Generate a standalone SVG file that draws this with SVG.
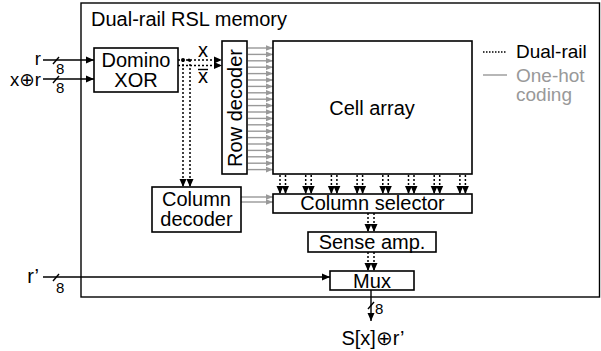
<svg xmlns="http://www.w3.org/2000/svg" width="601" height="351" viewBox="0 0 601 351">
<style>
text{font-family:"Liberation Sans",Arial,"DejaVu Sans",sans-serif;font-size:20px;fill:#000}
.sm{font-size:15px}
.lg{font-size:19px}
.in{font-size:18.5px}
.box{fill:#fff;stroke:#000;stroke-width:1.6}
.sol{stroke:#000;stroke-width:1.4;fill:none}
.dot{stroke:#000;stroke-width:1.5;stroke-dasharray:2 2;fill:none}
.gry{stroke:#999;stroke-width:1.4;fill:none}
.c{text-anchor:middle}
</style>
<defs>
<marker id="ab" markerUnits="userSpaceOnUse" markerWidth="9" markerHeight="9" refX="8" refY="4.5" orient="auto"><path d="M0,1L8,4.5L0,8z" fill="#000"/></marker>
<marker id="ag" markerUnits="userSpaceOnUse" markerWidth="8" markerHeight="8" refX="7" refY="4" orient="auto"><path d="M0,1.2L7,4L0,6.8z" fill="#999"/></marker>
</defs>
<g id="outer">
<rect x="81" y="3" width="518.5" height="294" fill="#fff" stroke="#000" stroke-width="1.4"/>
<text x="91" y="26">Dual-rail RSL memory</text>
</g>
<g id="connectors">
<line class="sol" x1="43" y1="60" x2="94" y2="60" marker-end="url(#ab)"/>
<line class="sol" x1="43" y1="79" x2="94" y2="79" marker-end="url(#ab)"/>
<line class="sol" x1="53" y1="64" x2="59" y2="57"/>
<line class="sol" x1="53" y1="83" x2="59" y2="76"/>
<line class="sol" x1="43" y1="277" x2="330" y2="277" marker-end="url(#ab)"/>
<line class="sol" x1="53" y1="281" x2="59" y2="274"/>
<line class="sol" x1="371" y1="290" x2="371" y2="321" marker-end="url(#ab)"/>
<line class="sol" x1="368" y1="309" x2="374" y2="302"/>
<line class="dot" x1="178" y1="60" x2="222" y2="60" marker-end="url(#ab)"/>
<line class="dot" x1="178" y1="65.5" x2="222" y2="65.5" marker-end="url(#ab)"/>
<circle cx="183" cy="60" r="2" fill="#000"/>
<circle cx="189" cy="60" r="1.6" fill="#000"/>
<line class="dot" x1="183" y1="60" x2="183" y2="187" marker-end="url(#ab)"/>
<line class="dot" x1="190" y1="60" x2="190" y2="187" marker-end="url(#ab)"/>
<g id="rowlines">
<line class="gry" x1="248" y1="48" x2="273" y2="48" marker-end="url(#ag)"/>
<line class="gry" x1="248" y1="54.4" x2="273" y2="54.4" marker-end="url(#ag)"/>
<line class="gry" x1="248" y1="60.8" x2="273" y2="60.8" marker-end="url(#ag)"/>
<line class="gry" x1="248" y1="67.2" x2="273" y2="67.2" marker-end="url(#ag)"/>
<line class="gry" x1="248" y1="73.6" x2="273" y2="73.6" marker-end="url(#ag)"/>
<line class="gry" x1="248" y1="80" x2="273" y2="80" marker-end="url(#ag)"/>
<line class="gry" x1="248" y1="86.4" x2="273" y2="86.4" marker-end="url(#ag)"/>
<line class="gry" x1="248" y1="92.8" x2="273" y2="92.8" marker-end="url(#ag)"/>
<line class="gry" x1="248" y1="99.2" x2="273" y2="99.2" marker-end="url(#ag)"/>
<line class="gry" x1="248" y1="105.6" x2="273" y2="105.6" marker-end="url(#ag)"/>
<line class="gry" x1="248" y1="112" x2="273" y2="112" marker-end="url(#ag)"/>
<line class="gry" x1="248" y1="118.4" x2="273" y2="118.4" marker-end="url(#ag)"/>
<line class="gry" x1="248" y1="124.8" x2="273" y2="124.8" marker-end="url(#ag)"/>
<line class="gry" x1="248" y1="131.2" x2="273" y2="131.2" marker-end="url(#ag)"/>
<line class="gry" x1="248" y1="137.6" x2="273" y2="137.6" marker-end="url(#ag)"/>
<line class="gry" x1="248" y1="144" x2="273" y2="144" marker-end="url(#ag)"/>
<line class="gry" x1="248" y1="150.4" x2="273" y2="150.4" marker-end="url(#ag)"/>
<line class="gry" x1="248" y1="156.8" x2="273" y2="156.8" marker-end="url(#ag)"/>
<line class="gry" x1="248" y1="163.2" x2="273" y2="163.2" marker-end="url(#ag)"/>
<line class="gry" x1="248" y1="169.6" x2="273" y2="169.6" marker-end="url(#ag)"/>
</g>
<line class="gry" x1="241" y1="197" x2="273" y2="197" marker-end="url(#ag)"/>
<line class="gry" x1="241" y1="202" x2="273" y2="202" marker-end="url(#ag)"/>
<g id="collines">
<line class="dot" x1="280" y1="175" x2="280" y2="194" marker-end="url(#ab)"/>
<line class="dot" x1="285.5" y1="175" x2="285.5" y2="194" marker-end="url(#ab)"/>
<line class="dot" x1="305.7" y1="175" x2="305.7" y2="194" marker-end="url(#ab)"/>
<line class="dot" x1="311.2" y1="175" x2="311.2" y2="194" marker-end="url(#ab)"/>
<line class="dot" x1="331.4" y1="175" x2="331.4" y2="194" marker-end="url(#ab)"/>
<line class="dot" x1="336.9" y1="175" x2="336.9" y2="194" marker-end="url(#ab)"/>
<line class="dot" x1="357.1" y1="175" x2="357.1" y2="194" marker-end="url(#ab)"/>
<line class="dot" x1="362.6" y1="175" x2="362.6" y2="194" marker-end="url(#ab)"/>
<line class="dot" x1="382.8" y1="175" x2="382.8" y2="194" marker-end="url(#ab)"/>
<line class="dot" x1="388.3" y1="175" x2="388.3" y2="194" marker-end="url(#ab)"/>
<line class="dot" x1="408.5" y1="175" x2="408.5" y2="194" marker-end="url(#ab)"/>
<line class="dot" x1="414" y1="175" x2="414" y2="194" marker-end="url(#ab)"/>
<line class="dot" x1="434.2" y1="175" x2="434.2" y2="194" marker-end="url(#ab)"/>
<line class="dot" x1="439.7" y1="175" x2="439.7" y2="194" marker-end="url(#ab)"/>
<line class="dot" x1="459.9" y1="175" x2="459.9" y2="194" marker-end="url(#ab)"/>
<line class="dot" x1="465.4" y1="175" x2="465.4" y2="194" marker-end="url(#ab)"/>
</g>
<line class="dot" x1="368" y1="213" x2="368" y2="232" marker-end="url(#ab)"/>
<line class="dot" x1="374" y1="213" x2="374" y2="232" marker-end="url(#ab)"/>
<line class="dot" x1="368" y1="252" x2="368" y2="271" marker-end="url(#ab)"/>
<line class="dot" x1="374" y1="252" x2="374" y2="271" marker-end="url(#ab)"/>
</g>
<g id="labels">
<text class="in" x="41" y="65" text-anchor="end">r</text>
<text class="in" x="41" y="86" text-anchor="end">x⊕r</text>
<text class="sm" x="56" y="74">8</text>
<text class="sm" x="56" y="93">8</text>
<text x="39" y="283" text-anchor="end">r’</text>
<text class="sm" x="56" y="293">8</text>
<text class="sm" x="375" y="314">8</text>
<text class="c" x="373" y="345">S[x]⊕r’</text>
<text class="c" x="203" y="57">x</text>
<text class="c" x="203" y="83">x</text>
<line class="sol" x1="198" y1="69.5" x2="208" y2="69.5"/>
</g>
<g id="domino">
<rect class="box" x="94" y="48" width="84" height="44"/>
<text class="c" x="136" y="67">Domino</text>
<text class="c" x="136" y="87">XOR</text>
</g>
<g id="rowdecoder">
<rect class="box" x="222" y="41" width="25" height="133"/>
<text class="c" transform="translate(242,108) rotate(-90)">Row decoder</text>
</g>
<g id="cellarray">
<rect class="box" x="273" y="41" width="199" height="133"/>
<text class="c" x="372" y="115">Cell array</text>
</g>
<g id="coldecoder">
<rect class="box" x="152" y="187" width="89" height="45"/>
<text class="c" x="196.5" y="206">Column</text>
<text class="c" x="196.5" y="226">decoder</text>
</g>
<g id="colselector">
<rect class="box" x="273" y="194" width="199" height="19"/>
<text class="c" x="372.5" y="210">Column selector</text>
</g>
<g id="senseamp">
<rect class="box" x="308" y="232" width="128" height="20"/>
<text class="c" x="372" y="249">Sense amp.</text>
</g>
<g id="mux">
<rect class="box" x="330" y="271" width="84" height="19"/>
<text class="c" x="372" y="288">Mux</text>
</g>
<g id="legend">
<line class="dot" x1="483" y1="52" x2="507" y2="52" style="stroke-dasharray:1.5 1.5;stroke-width:1.3"/>
<text class="lg" x="516" y="58">Dual-rail</text>
<line class="gry" x1="483" y1="75" x2="507" y2="75"/>
<text class="lg" x="516" y="82" style="fill:#999">One-hot</text>
<text class="lg" x="516" y="101" style="fill:#999">coding</text>
</g>
</svg>
